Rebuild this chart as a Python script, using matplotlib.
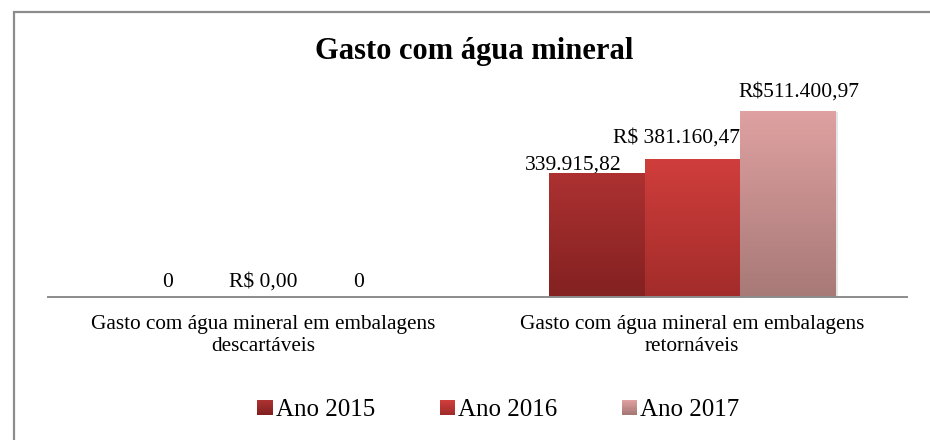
import matplotlib
matplotlib.use("Agg")
import matplotlib.pyplot as plt
import numpy as np
from matplotlib.patches import Rectangle, Patch
from matplotlib.colors import LinearSegmentedColormap
from matplotlib.legend_handler import HandlerPatch

categories = ["Gasto com água mineral em embalagens\ndescartáveis",
              "Gasto com água mineral em embalagens\nretornáveis"]
series_names = ["Ano 2015", "Ano 2016", "Ano 2017"]
values_2015 = [0, 339915.82]
values_2016 = [0, 381160.47]
values_2017 = [0, 511400.97]
labels_2015 = ["0", "339.915,82"]
labels_2016 = ["R$ 0,00", "R$ 381.160,47"]
labels_2017 = ["0", "R$511.400,97"]

# gradient colors (top, bottom)
grads = [("#ad3131", "#832121"), ("#d03e3c", "#a22c2a"), ("#dfa1a1", "#a77977")]

plt.rcParams['font.family'] = ['Liberation Serif', 'DejaVu Serif']

W, H = 930, 440
fig = plt.figure(figsize=(W/100, H/100), dpi=100)
# border (right and bottom edges fall outside the image)
fig.patches.append(Rectangle((14/W, -0.1), 1.2, 1.1 - 12/H, transform=fig.transFigure,
                             fill=False, edgecolor="#8c8c8c", linewidth=1.6))

ax = fig.add_axes([48/W, 1 - 297/H, (907-48)/W, (297-79)/H])
for s in ["top", "left", "right"]:
    ax.spines[s].set_visible(False)
ax.spines["bottom"].set_color("#8c8c8c")
ax.spines["bottom"].set_linewidth(1.4)
ax.set_yticks([])
x = np.arange(len(categories))
ax.set_xticks(x)
ax.set_xticklabels(categories, fontsize=15.3, linespacing=1.2)
ax.tick_params(axis="x", length=0, pad=13)

bw = 0.222
all_vals = [values_2015, values_2016, values_2017]
all_labels = [labels_2015, labels_2016, labels_2017]
label_dx = [-17, -11, 8]     # horizontal label offsets (points)
label_dy = [3.0, 11.5, 10.8]  # vertical label offsets (points)
for i, (vals, labs, (ctop, cbot)) in enumerate(zip(all_vals, all_labels, grads)):
    pos = x + (i - 1) * bw
    bars = ax.bar(pos, vals, width=bw, color=ctop, edgecolor="none", zorder=2)
    cmap = LinearSegmentedColormap.from_list("g%d" % i, [cbot, ctop])
    for b, v in zip(bars, vals):
        if v <= 0:
            continue
        x0, w = b.get_x(), b.get_width()
        # soft shadow
        ax.add_patch(Rectangle((x0 + 0.006, 0), w, v - 3000, color="#000000",
                               alpha=0.10, zorder=1.5, linewidth=0))
        grad = np.linspace(0, 1, 256).reshape(-1, 1)
        im = ax.imshow(grad, extent=(x0, x0 + w, 0, v), origin="lower",
                       cmap=cmap, aspect="auto", zorder=2.5)
        im.set_clip_path(b)
    for p, v, t in zip(pos, vals, labs):
        dx = label_dx[i] if v > 0 else 0
        dy = label_dy[i] if v > 0 else 7.2
        ax.annotate(t, (p, v), xytext=(dx, dy), textcoords="offset points",
                    ha="center", va="baseline", fontsize=15.5, zorder=4)
ax.set_xlim(-0.5, 1.5)
ax.set_ylim(0, 600000)

fig.text((316+632)/2/W, 1 - 52/H, "Gasto com água mineral", ha="center", va="center",
         fontsize=22, fontweight="bold")


class GradHandler(HandlerPatch):
    def __init__(self, ctop, cbot):
        super().__init__()
        self.ctop, self.cbot = ctop, cbot

    def create_artists(self, legend, orig_handle, xdescent, ydescent, width, height, fontsize, trans):
        arts = []
        n = 12
        side = height
        x0 = -xdescent + width - side
        c1 = np.array(matplotlib.colors.to_rgb(self.cbot))
        c2 = np.array(matplotlib.colors.to_rgb(self.ctop))
        for k in range(n):
            f = k / (n - 1)
            col = c1 + (c2 - c1) * f
            r = Rectangle((x0, -ydescent + side * k / n), side, side / n + 0.05,
                          facecolor=col, edgecolor="none", transform=trans)
            arts.append(r)
        return arts


handles = [Patch(facecolor=c[0], label=n) for c, n in zip(grads, series_names)]
hmap = {h: GradHandler(c[0], c[1]) for h, c in zip(handles, grads)}
fig.legend(handles=handles, handler_map=hmap, loc="center", ncol=3,
           bbox_to_anchor=(499/W, 1 - 410/H), frameon=False, fontsize=18,
           handlelength=0.55, handleheight=0.55, handletextpad=0.12, columnspacing=2.65)

fig.savefig("out.png", dpi=100, facecolor="white")
